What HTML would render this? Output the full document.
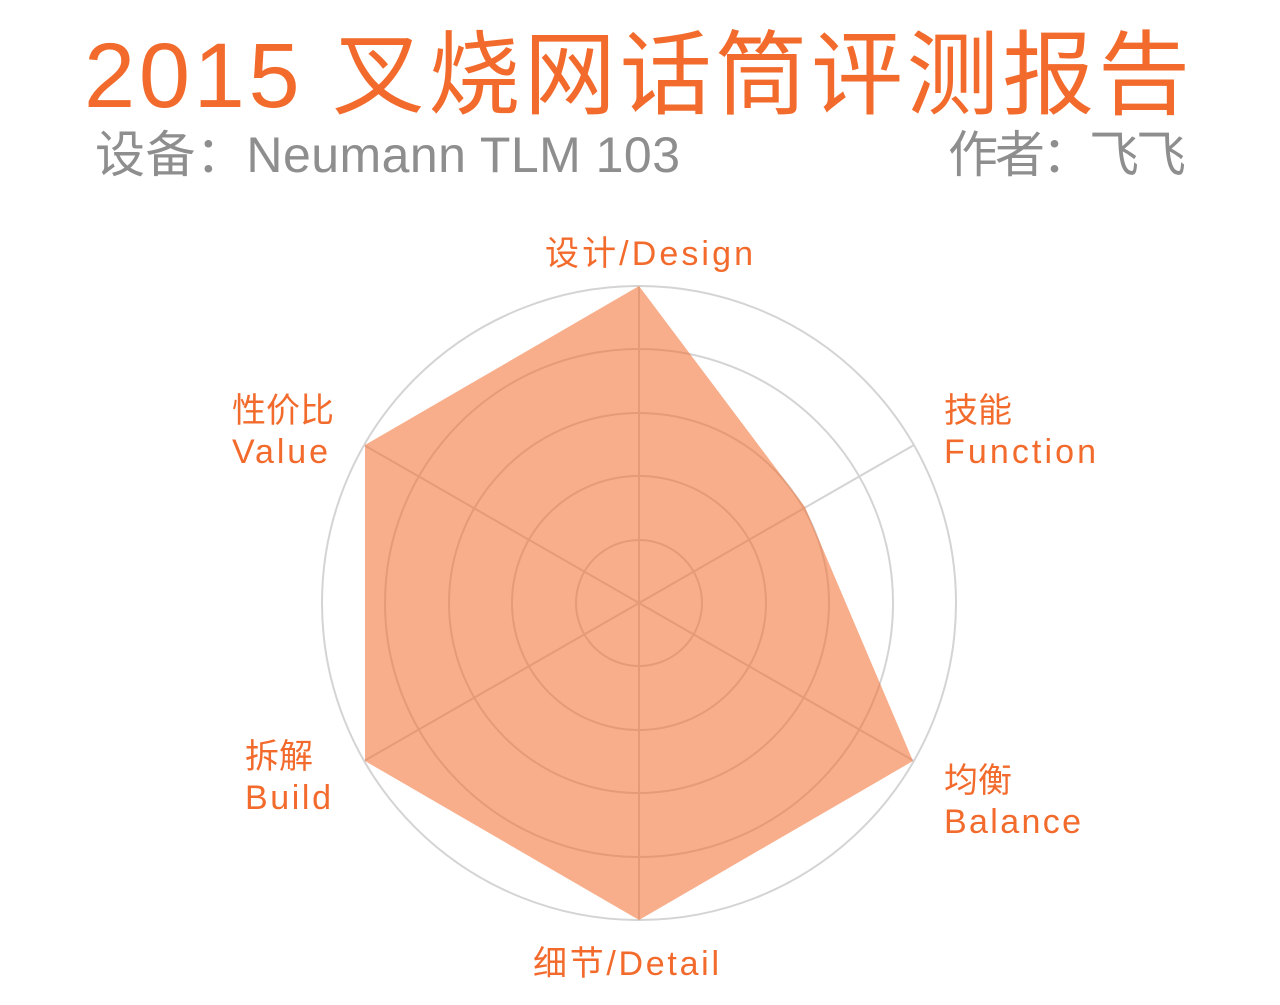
<!DOCTYPE html>
<html><head><meta charset="utf-8"><style>
body{margin:0;background:#fff;width:1280px;height:1000px;overflow:hidden}
</style></head><body>
<svg width="1280" height="1000" xmlns="http://www.w3.org/2000/svg" font-family="'Liberation Sans','Noto Sans CJK SC',sans-serif">
<text x="84" y="107" font-size="92" fill="#f26b2c" textLength="1106" lengthAdjust="spacing">2015 叉烧网话筒评测报告</text>
<text x="95" y="172" font-size="50" fill="#8e8e8e" textLength="585" lengthAdjust="spacing">设备：Neumann TLM 103</text>
<text x="948" y="172" font-size="50" fill="#8e8e8e" textLength="238" lengthAdjust="spacing">作者：飞飞</text>
<g fill="none" stroke="#d4d4d4" stroke-width="2">
<circle cx="639" cy="603" r="317"/>
<circle cx="639" cy="603" r="254"/>
<circle cx="639" cy="603" r="190"/>
<circle cx="639" cy="603" r="127"/>
<circle cx="639" cy="603" r="63"/>
<line x1="639" y1="286" x2="639" y2="920"/>
<line x1="364" y1="445" x2="914" y2="761"/>
<line x1="364" y1="761" x2="914" y2="445"/>
</g>
<polygon points="639,286 805,507 913,761 639,920 365,761 365,445" fill="#f26b2c" fill-opacity="0.55"/>
<g font-size="34" fill="#f26b2c">
<text x="545" y="265" textLength="208" lengthAdjust="spacing">设计/Design</text>
<text x="944" y="422">技能</text>
<text x="944" y="463" textLength="152" lengthAdjust="spacing">Function</text>
<text x="944" y="792">均衡</text>
<text x="944" y="833" textLength="137" lengthAdjust="spacing">Balance</text>
<text x="533" y="975" textLength="186" lengthAdjust="spacing">细节/Detail</text>
<text x="245" y="768">拆解</text>
<text x="245" y="809" textLength="86" lengthAdjust="spacing">Build</text>
<text x="232" y="422">性价比</text>
<text x="232" y="463" textLength="96" lengthAdjust="spacing">Value</text>
</g>
</svg>
</body></html>
